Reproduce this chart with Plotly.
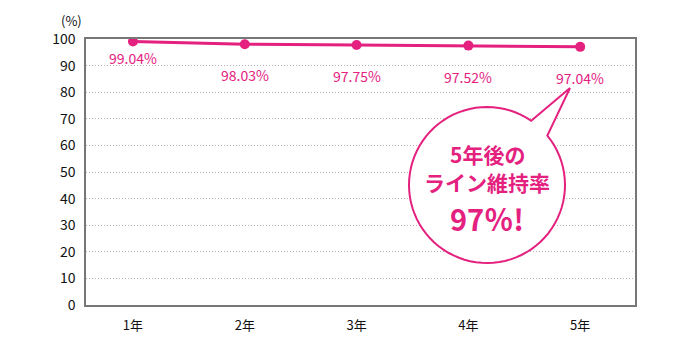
import math
import plotly.graph_objects as go

categories = ["1年", "2年", "3年", "4年", "5年"]
values = [99.04, 98.03, 97.75, 97.52, 97.04]
labels = ["99.04%", "98.03%", "97.75%", "97.52%", "97.04%"]
label_shift = [-16, -31, -31, -31, -31]
y_ticks = list(range(0, 101, 10))

PINK = "#e4217f"
FONT = "Noto Sans CJK JP"

W, H = 700, 352
L, R, T, B = 86, 65, 39, 47
PW, PH = W - L - R, H - T - B

def px(x, y):
    return (x - L) / PW, (H - B - y) / PH

fig = go.Figure()
fig.add_trace(go.Scatter(
    x=categories, y=values, mode="lines+markers",
    line=dict(color=PINK, width=3),
    marker=dict(color=PINK, size=10),
    hoverinfo="skip", showlegend=False,
))

for c, v, t, s in zip(categories, values, labels, label_shift):
    fig.add_annotation(x=c, y=v, text=t, showarrow=False, yshift=s,
                       font=dict(color=PINK, size=14, family=FONT))

# speech bubble (decoration)
cx, cy, r = 487, 185, 78
a1 = math.atan2(135 - cy, 548 - cx)
a2 = math.atan2(121 - cy, 531 - cx) + 2 * math.pi
pts = []
n = 80
for i in range(n + 1):
    a = a1 + (a2 - a1) * i / n
    pts.append(px(cx + r * math.cos(a), cy + r * math.sin(a)))
pts.append(px(570, 88))
path = "M " + " L ".join(f"{x:.5f},{y:.5f}" for x, y in pts) + " Z"
fig.add_shape(type="path", path=path, xref="paper", yref="paper",
              fillcolor="white", line=dict(color=PINK, width=2), layer="above")

for text, y, size in [("5年後の", 154, 21), ("ライン維持率", 182, 21), ("97％!", 218, 29)]:
    xx, yy = px(cx, y)
    fig.add_annotation(x=xx, y=yy, xref="paper", yref="paper", text=f"<b>{text}</b>",
                       showarrow=False, xanchor="center", yanchor="middle",
                       font=dict(color=PINK, size=size, family=FONT))

xx, yy = px(71, 20)
fig.add_annotation(x=xx, y=yy, xref="paper", yref="paper", text="(%)",
                   showarrow=False, xanchor="center", yanchor="middle",
                   font=dict(color="#111", size=13, family=FONT))

fig.update_layout(
    width=W, height=H,
    margin=dict(l=L, r=R, t=T, b=B),
    paper_bgcolor="white", plot_bgcolor="white",
    font=dict(family=FONT, size=13, color="#111"),
    xaxis=dict(type="category", range=[-0.42, 4.49], showgrid=False,
               showline=True, linecolor="#777", linewidth=1.5, mirror=True,
               ticks="", ticklabelstandoff=8, zeroline=False,
               tickfont=dict(size=13, color="#111")),
    yaxis=dict(range=[0, 100], tickvals=y_ticks, showgrid=True,
               gridcolor="#b5b5b5", griddash="1px,2px", gridwidth=1,
               showline=True, linecolor="#777", linewidth=1.5, mirror=True,
               ticks="", ticklabelstandoff=6, zeroline=False,
               tickfont=dict(size=14, color="#111")),
)

fig.write_html("out.html")
